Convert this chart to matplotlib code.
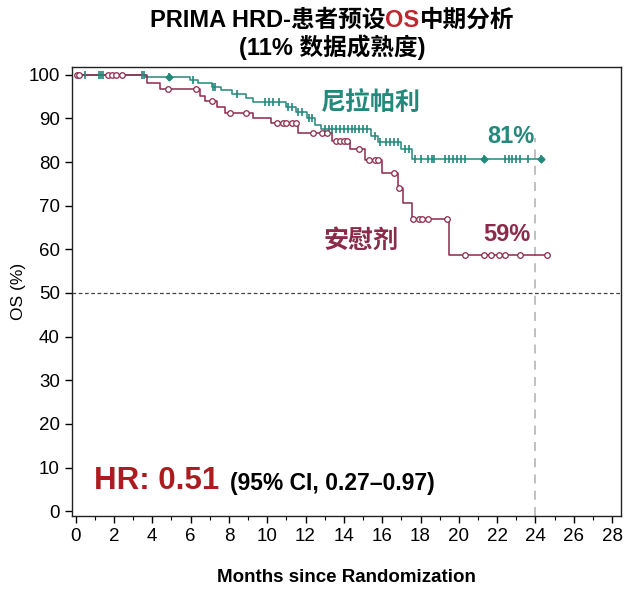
import numpy as np
import matplotlib
matplotlib.use("Agg")
import matplotlib.pyplot as plt

plt.rcParams['font.family'] = ['Liberation Sans', 'Noto Sans CJK SC', 'DejaVu Sans']

# Niraparib (teal) - step times and survival (%)
nira_t = [0, 3.6, 5.95, 6.4, 7.1, 7.6, 8.15, 8.9, 9.25, 11.0, 11.5, 12.1, 12.5, 12.8, 15.4, 15.8, 17.0, 17.55]
nira_s = [100, 99.4, 98.7, 98.0, 97.3, 96.5, 95.6, 94.6, 93.7, 92.5, 91.4, 90.2, 88.6, 87.6, 85.9, 84.5, 83.0, 80.7]
nira_end = 24.3
nira_cens = [0.5, 1.2, 1.3, 1.45, 3.45, 3.55, 4.85, 6.1, 7.15, 7.25, 8.4, 9.9, 10.1, 10.3, 10.6,
             11.1, 11.3, 11.6, 11.8, 12.2, 12.35, 13.0, 13.2, 13.4, 13.6, 13.8, 14.0, 14.2, 14.4,
             14.6, 14.8, 15.0, 15.2, 15.6, 15.9, 16.2, 16.4, 16.6, 16.8, 17.2, 17.4, 17.7, 18.0,
             18.4, 18.6, 18.7, 19.3, 19.5, 19.7, 19.9, 20.1, 20.3, 21.3, 22.4, 22.6, 22.8, 23.0,
             23.2, 23.6, 24.3]

# Placebo (maroon)
plac_t = [0, 3.7, 4.4, 6.5, 6.75, 7.4, 7.8, 9.25, 10.2, 11.6, 13.4, 14.3, 15.1, 16.0, 16.8, 17.1, 17.55, 19.5]
plac_s = [100, 98.2, 96.8, 95.2, 94.0, 92.7, 91.3, 90.1, 89.0, 86.7, 84.9, 83.0, 80.5, 77.5, 74.1, 70.6, 67.0, 58.7]
plac_end = 24.6
plac_cens = [0.05, 0.2, 1.7, 1.9, 2.1, 2.4, 4.8, 6.3, 7.1, 8.05, 8.9, 10.5, 10.8, 11.0, 11.3, 11.5,
             12.4, 12.85, 13.1, 13.6, 13.8, 14.0, 14.15, 14.8, 15.3, 15.6, 15.8, 16.6, 16.9,
             17.6, 17.9, 18.1, 18.4, 19.4, 20.3, 21.3, 21.7, 22.1, 22.4, 23.2, 24.6]

teal = '#23897B'
maroon = '#8C2A49'
hr_red = '#AE1B1F'


def surv_at(times, surv, x):
    idx = np.searchsorted(times, x, side='right') - 1
    return np.array(surv)[idx]


fig = plt.figure(figsize=(6.41, 5.92), dpi=100)
ax = fig.add_axes([0.112, 0.128, 0.857, 0.759])

for t, s, end, cens, col, mk in [(nira_t, nira_s, nira_end, nira_cens, teal, '|'),
                                  (plac_t, plac_s, plac_end, plac_cens, maroon, 'o')]:
    tt = list(t) + [end]
    ss = list(s) + [s[-1]]
    ax.step(tt, ss, where='post', color=col, lw=1.1, zorder=3)
    cy = surv_at(t, s, cens)
    if mk == '|':
        ax.plot(cens, cy, ls='none', marker='|', ms=6, mew=1.2, color=col, zorder=4)
    else:
        ax.plot(cens, cy, ls='none', marker='o', ms=4, mew=0.9, mfc='white', mec=col, zorder=4)

# filled censor clusters on niraparib curve
big = [4.85, 21.3, 24.3]
ax.plot(big, surv_at(nira_t, nira_s, big), ls='none', marker='D', ms=3.5, color=teal, zorder=5)

ax.axhline(50, color='#444444', lw=0.9, ls=(0, (3, 2)), zorder=1)
ax.plot([24, 24], [-1.2, 85.5], color='#BBBBBB', lw=1.3, ls=(0, (5, 4)), zorder=1)

ax.text(15.4, 93.4, '尼拉帕利', color=teal, fontsize=18, fontweight='bold', ha='center', va='center')
ax.text(22.7, 85.8, '81%', color=teal, fontsize=17, fontweight='bold', ha='center', va='center')
ax.text(14.9, 61.9, '安慰剂', color=maroon, fontsize=18, fontweight='bold', ha='center', va='center')
ax.text(22.5, 63.3, '59%', color=maroon, fontsize=17, fontweight='bold', ha='center', va='center')

ax.text(0.95, 7.0, 'HR: 0.51', color=hr_red, fontsize=22.5, fontweight='bold', ha='left', va='center')
ax.text(8.05, 6.4, '(95% CI, 0.27–0.97)', color='black', fontsize=16.5, fontweight='bold', ha='left', va='center')

ax.set_xlim(-0.2, 28.47)
ax.set_ylim(-1.15, 101.8)
ax.set_xticks(np.arange(0, 29, 2))
ax.set_xticks(np.arange(1, 29, 2), minor=True)
ax.set_yticks(np.arange(0, 101, 10))
ax.tick_params(axis='both', which='major', labelsize=13.5, direction='out', length=5, width=1)
ax.tick_params(axis='x', which='minor', direction='out', length=3, width=0.8)
for sp in ax.spines.values():
    sp.set_linewidth(1.0)
    sp.set_color('#222222')

ax.set_xlabel('Months since Randomization', fontsize=13.5, fontweight='bold', labelpad=17)
ax.set_ylabel('OS (%)', fontsize=12.5, labelpad=2)

# title with red "OS"
fig.canvas.draw()
r = fig.canvas.get_renderer()
parts = [('PRIMA HRD-患者预设', 'black'), ('OS', '#C0262D'), ('中期分析', 'black')]
objs = [fig.text(0, 0.966, p, color=c, fontsize=17, fontweight='bold', ha='left', va='center') for p, c in parts]
widths = [o.get_window_extent(r).width / fig.bbox.width for o in objs]
x = 0.518 - sum(widths) / 2
for o, w in zip(objs, widths):
    o.set_x(x)
    x += w
fig.text(0.518, 0.921, '(11% 数据成熟度)', fontsize=17, fontweight='bold', ha='center', va='center')

fig.savefig('out.png', dpi=100)
